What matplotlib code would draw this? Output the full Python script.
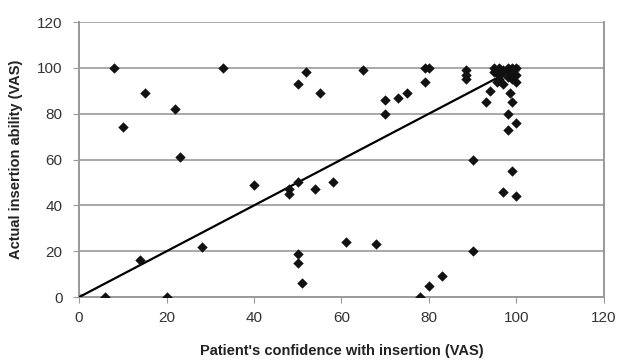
import matplotlib
matplotlib.use("Agg")
import matplotlib.pyplot as plt

plt.rcParams['font.family'] = ['Liberation Sans', 'DejaVu Sans']

# Patient's confidence (x) and actual insertion ability (y), VAS
conf = [6, 20, 8, 10, 15, 22, 23, 14, 28, 33, 40, 48, 48, 50, 54, 58,
        50, 52, 55, 50, 50, 51, 61, 68, 65, 70, 70, 73, 75, 79, 79, 80,
        78, 80, 83, 88.6, 88.6, 88.6, 90, 90, 93, 94,
        95, 96, 97, 98, 99, 100, 95, 96, 97, 98, 99, 100, 96, 98, 99, 100,
        95.5, 97, 98.5, 99, 98, 100, 98, 97, 99, 100]
ability = [0, 0, 100, 74, 89, 82, 61, 16, 22, 100, 49, 47, 45, 50, 47, 50,
           93, 98, 89, 19, 15, 6, 24, 23, 99, 86, 80, 87, 89, 94, 100, 100,
           0, 5, 9, 99, 97, 95, 60, 20, 85, 90,
           100, 100, 99, 100, 100, 100, 98, 97, 98, 99, 98, 97, 95, 96, 95, 94,
           94, 93, 89, 85, 80, 76, 73, 46, 55, 44]

line_x = [0, 100]
line_y = [0, 100]

xticks = [0, 20, 40, 60, 80, 100, 120]
yticks = [0, 20, 40, 60, 80, 100, 120]

fig = plt.figure(figsize=(6.18, 3.61), dpi=100)
ax = fig.add_axes([0.128, 0.177, 0.849, 0.762])

ax.set_xlim(0, 120)
ax.set_ylim(0, 120)
ax.set_xticks(xticks)
ax.set_yticks(yticks)

for yv in yticks[1:]:
    ax.axhline(yv, color='#999999', lw=1.2, zorder=1)

ax.plot(line_x, line_y, color='black', lw=1.6, zorder=3)
ax.scatter(line_x, line_y, marker='s', s=14, color='#b0b0b0', zorder=2)
ax.scatter(conf, ability, marker='D', s=28, color='#111111', zorder=4, linewidths=0)

for side in ['left', 'bottom', 'right']:
    ax.spines[side].set_color('#999999')
    ax.spines[side].set_linewidth(1.4)
ax.spines['top'].set_visible(False)
ax.tick_params(direction='out', length=4, color='#999999', labelcolor='#333333',
               labelsize=11)
ax.tick_params(axis='x', pad=6)
ax.tick_params(axis='y', pad=8)

ax.set_xlabel("Patient's confidence with insertion (VAS)", fontsize=10.5,
              fontweight='bold', color='#222222', labelpad=14)
ax.set_ylabel("Actual insertion ability (VAS)", fontsize=10.5,
              fontweight='bold', color='#222222', labelpad=10)

fig.savefig('out.png', dpi=100)
